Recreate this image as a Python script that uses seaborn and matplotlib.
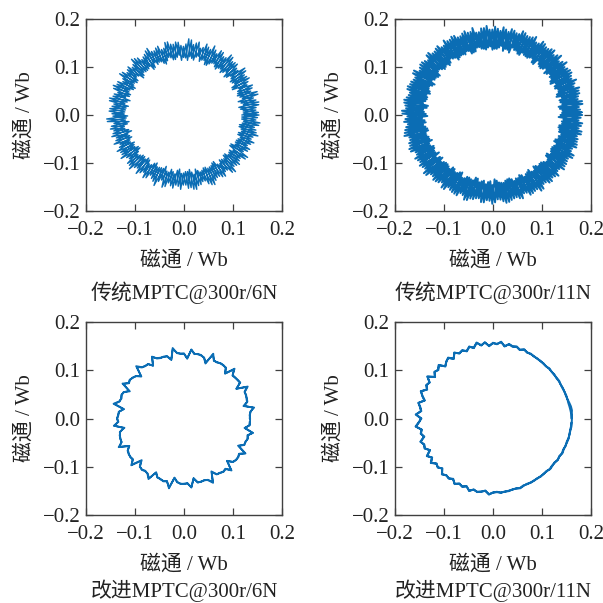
import numpy as np
import pandas as pd
import matplotlib
matplotlib.use("Agg")
import matplotlib.pyplot as plt
import seaborn as sns

# ---------------- data (flux radius samples, unit: 1e-3 Wb) ----------------
titles = ["传统MPTC@300r/6N", "传统MPTC@300r/11N", "改进MPTC@300r/6N", "改进MPTC@300r/11N"]
tick_values = [-0.2, -0.1, 0.0, 0.1, 0.2]
tick_labels = ["\u22120.2", "\u22120.1", "0.0", "0.1", "0.2"]
axis_label = "磁通 / Wb"

laps_tl = 2.011
radius_tl = [
    118,152,121,148,113,155,119,146,124,157,116,150,120,143,112,154,122,149,117,158,
    125,145,114,151,119,156,121,147,115,153,123,144,118,157,113,150,120,146,126,155,
    116,148,122,159,119,143,114,152,121,149,117,156,124,145,112,153,120,147,118,158,
    115,150,123,144,119,155,121,148,113,152,125,146,117,157,120,143,116,151,122,154,
    118,149,114,156,123,145,119,152,121,147,115,158,120,144,117,153,124,150,112,146,
    119,155,122,148,116,151,120,157,113,144,125,153,118,149,121,156,117,145,123,152,
    114,148,120,159,119,143,122,154,116,150,124,147,113,155,121,146,118,152,120,157,
    115,149,123,144,117,156,121,151,119,147,114,153,125,145,120,158,116,150,122,148,
    118,155,113,143,121,152,119,149,124,146,117,157,120,150,115,154,122,147,118,153,
    121,147,116,154,123,150,114,157,120,145,118,153,125,148,113,151,119,156,122,144,
    117,152,124,149,115,158,120,146,118,154,122,150,113,147,121,155,116,143,123,152,
    119,157,114,148,120,145,125,153,117,150,122,156,118,144,115,151,121,148,124,155,
    113,147,120,152,119,158,116,145,123,149,118,154,121,146,114,152,122,157,117,143,
    125,150,119,155,115,148,120,153,122,145,118,157,113,150,124,147,117,154,121,149,
    116,144,123,156,119,151,114,147,120,153,122,158,118,146,115,150,124,155,117,143,
    121,152,119,148,113,157,123,145,120,154,116,149,122,146,118,153,114,156,125,150,
    119,144,121,152,117,158,120,147,115,151,123,145,118,155,122,148,116,153,120,146,
    124,157,113,150,119,144,121,154,117,148,122,152,115,146,120,156,118,150,123,149,
]

laps_tr = 2.010
radius_tr = [
    138,181,142,176,135,184,140,178,145,182,137,175,143,185,139,179,134,183,141,177,
    144,180,136,186,140,176,138,182,146,178,135,184,141,175,139,181,143,179,137,185,
    142,177,134,183,140,180,145,176,138,184,136,178,141,182,139,175,144,186,137,179,
    135,181,143,177,140,184,138,180,142,176,146,183,136,178,139,185,141,175,144,182,
    137,179,140,186,135,177,143,181,138,184,142,176,139,180,145,183,136,178,141,185,
    134,179,140,175,144,182,137,186,142,177,139,181,135,184,143,176,138,180,141,183,
    146,178,136,185,140,177,138,181,143,175,137,184,141,179,135,182,144,176,139,186,
    142,180,136,177,140,183,145,178,138,185,134,176,141,181,143,184,137,179,139,182,
    140,175,136,183,144,180,138,186,142,177,135,182,141,178,139,184,146,176,137,181,
    143,179,138,185,140,176,136,183,142,180,145,177,139,184,137,181,141,175,134,182,
    141,178,137,184,143,176,139,182,135,185,142,179,138,177,144,183,136,180,140,186,
    139,175,145,181,137,184,141,178,134,182,143,176,138,185,140,179,136,183,142,177,
    146,181,139,176,135,184,141,180,138,178,143,186,137,182,140,175,144,179,136,184,
    142,177,138,183,140,180,135,185,143,176,139,181,141,178,137,184,145,179,136,182,
    140,176,144,185,138,178,142,181,136,183,139,177,141,184,134,180,143,186,137,175,
    145,182,138,179,140,184,136,177,142,181,139,185,143,176,137,183,141,178,135,180,
    139,186,144,177,138,182,140,179,136,184,142,176,137,181,145,183,139,178,141,185,
    135,180,143,176,138,183,140,179,146,182,137,177,142,185,139,181,136,178,144,184,
    141,176,138,182,140,179,135,185,143,177,137,183,139,180,142,176,145,184,136,181,
    140,178,138,185,143,176,137,182,141,180,139,184,136,177,142,183,144,179,138,181,
]

laps_bl = 2
radius_bl = [
    134,135,136,145,124,133,134,136,135,144,123,137,136,134,133,146,126,135,137,136,
    135,134,147,122,132,136,137,135,143,125,134,135,136,148,124,133,135,134,136,144,
    126,135,134,137,146,123,131,135,136,134,145,124,135,136,134,137,147,125,133,135,
    136,134,144,123,134,135,137,136,146,126,132,134,136,135,143,122,135,136,134,137,
    145,125,133,135,136,134,148,124,132,136,135,134,144,126,135,136,134,137,146,123,
    133,135,136,134,143,125,135,136,137,135,145,124,134,135,136,134,144,126,134,135,
    135,134,137,143,126,134,135,135,136,146,124,136,135,135,134,144,125,136,136,137,
    134,135,145,124,133,135,136,136,144,124,135,134,137,146,125,134,134,135,137,143,
    127,134,135,136,144,124,132,134,137,135,143,126,134,137,135,136,145,124,134,134,
    137,135,143,125,133,136,136,137,144,125,133,135,135,134,145,124,134,137,135,136,
    143,126,134,134,137,135,146,125,133,135,136,135,143,125,136,135,135,136,144,125,
    134,134,137,135,145,124,134,137,136,134,144,125,135,134,137,135,143,125,135,134,
]

laps_br = 2
radius_br = [
    160,161,162,161,159,157,156,156,155,155,155,154,155,154,154,153,154,153,154,153,
    155,153,157,152,156,155,158,151,160,154,157,150,159,153,161,152,156,149,155,151,
    158,147,155,152,145,157,150,154,146,160,149,153,147,158,151,144,156,150,148,157,
    146,152,159,147,151,145,156,150,153,144,155,149,157,148,152,146,156,151,154,149,
    157,151,155,150,158,152,156,153,151,157,154,152,155,153,154,152,153,154,152,153,
    153,154,153,155,154,155,156,155,156,157,157,158,157,159,158,159,160,159,160,161,
    161,160,159,158,157,157,157,156,156,155,156,155,154,154,155,153,153,154,153,154,
    154,154,156,153,157,154,157,152,159,155,156,151,158,154,160,151,157,150,154,152,
    157,148,156,151,146,156,151,153,147,159,150,152,148,157,152,145,155,151,147,158,
    147,151,158,148,150,146,155,151,152,145,156,148,156,149,151,147,155,152,153,150,
    156,152,154,151,157,153,155,154,150,158,153,153,154,154,153,153,152,155,153,152,
    154,153,154,154,155,154,157,156,155,158,156,159,158,158,159,160,159,160,161,160,
]

# ---------------- styling ----------------
sns.set_theme(style="white")
plt.rcParams["font.family"] = ["Liberation Serif", "Noto Sans CJK SC", "DejaVu Sans"]
plt.rcParams["axes.unicode_minus"] = True

LINE = "#0b6db4"
SPINE = "#404040"
TXT = "#222222"
FS = 15

fig = plt.figure(figsize=(6.03, 6.03), dpi=100)

W, H = 603.0, 603.0
boxes = [  # left, top, right, bottom in pixels
    (86, 19, 282, 211),
    (395, 19, 591, 211),
    (86, 322, 282, 515),
    (395, 322, 591, 515),
]
series = [(radius_tl, laps_tl, 1.0), (radius_tr, laps_tr, 1.4),
          (radius_bl, laps_bl, 1.3), (radius_br, laps_br, 1.4)]
title_y = [293, 293, 591, 591]


def ring_frame(r_list, laps):
    r = np.asarray(r_list, dtype=float) / 1000.0
    n = len(r)
    th = np.linspace(0, 2 * np.pi * laps, n, endpoint=False)
    return pd.DataFrame({"x": r * np.cos(th), "y": r * np.sin(th), "order": np.arange(n)})


for k, ((l, t, rgt, b), (rl, laps, lw)) in enumerate(zip(boxes, series)):
    ax = fig.add_axes([l / W, 1 - b / H, (rgt - l) / W, (b - t) / H])
    df = ring_frame(rl, laps)
    sns.lineplot(data=df, x="x", y="y", sort=False, estimator=None, ax=ax,
                 color=LINE, linewidth=lw)
    ax.set_xlim(-0.2, 0.2)
    ax.set_ylim(-0.2, 0.2)
    ax.set_xticks(tick_values)
    ax.set_yticks(tick_values)
    ax.set_xticklabels(tick_labels, fontsize=FS)
    ax.set_yticklabels(tick_labels, fontsize=FS)
    ax.tick_params(direction="in", length=5, width=0.9, color=SPINE,
                   top=True, right=True, bottom=True, left=True,
                   labelcolor=TXT)
    ax.tick_params(axis="x", pad=7)
    ax.tick_params(axis="y", pad=4)
    for s in ax.spines.values():
        s.set_visible(True)
        s.set_color(SPINE)
        s.set_linewidth(1.0)
    ax.set_xlabel(axis_label, fontsize=FS, color=TXT, labelpad=8)
    ax.set_ylabel(axis_label, fontsize=FS, color=TXT, labelpad=6)
    ax.grid(False)
    fig.text(((l + rgt) / 2) / W, 1 - title_y[k] / H, titles[k], fontsize=FS,
             ha="center", va="center", color=TXT)

fig.savefig("out.png", dpi=100)
